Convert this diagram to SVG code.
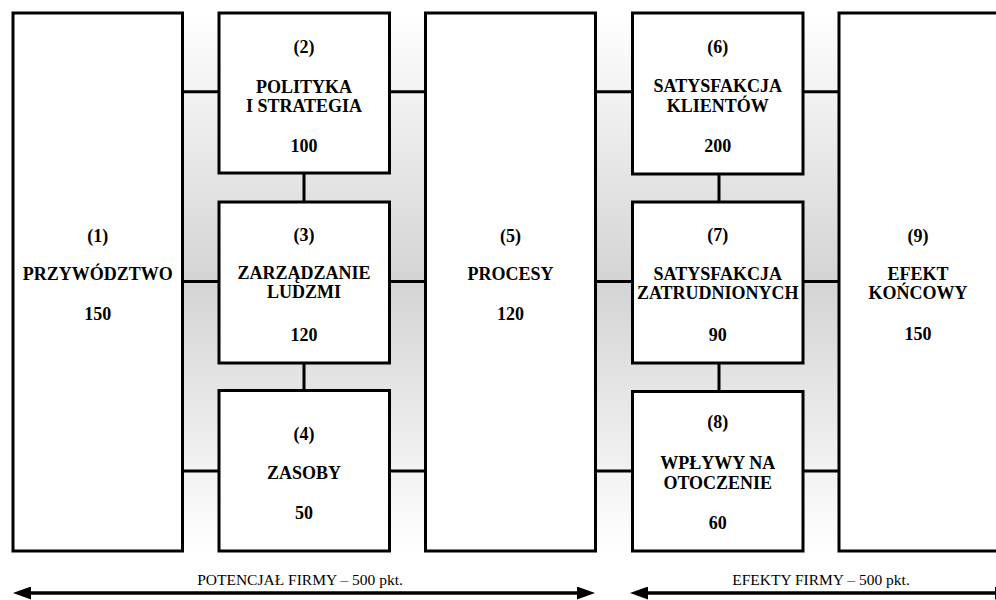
<svg xmlns="http://www.w3.org/2000/svg" width="996" height="600" viewBox="0 0 996 600">
<defs>
<linearGradient id="band" x1="0" y1="12" x2="0" y2="551" gradientUnits="userSpaceOnUse">
<stop offset="0" stop-color="#ffffff"/>
<stop offset="0.5" stop-color="#d4d4d4"/>
<stop offset="1" stop-color="#ffffff"/>
</linearGradient>
<marker id="ah" markerUnits="userSpaceOnUse" markerWidth="18" markerHeight="13" viewBox="0 0 18 13" refX="8" refY="6.5" orient="auto-start-reverse">
<path d="M0,0 L18,6.5 L0,13 Z" fill="#000"/>
</marker>
<style>
.box{fill:#fff;stroke:#000;stroke-width:3}
.con{stroke:#000;stroke-width:3;fill:none}
.t{font-family:"Liberation Serif","Times New Roman",serif;font-weight:bold;font-size:18px;text-anchor:middle;fill:#000}
.cap{font-family:"Liberation Serif","Times New Roman",serif;font-size:15.5px;text-anchor:middle;fill:#000}
.arr{stroke:#000;stroke-width:3.5;fill:none}
</style>
</defs>
<rect x="182" y="12" width="244" height="539" fill="url(#band)"/>
<rect x="595" y="12" width="245" height="539" fill="url(#band)"/>
<g id="connectors">
<line class="con" x1="182" y1="91.7" x2="426" y2="91.7"/>
<line class="con" x1="182" y1="281.5" x2="426" y2="281.5"/>
<line class="con" x1="182" y1="471" x2="426" y2="471"/>
<line class="con" x1="304" y1="173" x2="304" y2="390"/>
<line class="con" x1="595" y1="91.7" x2="840" y2="91.7"/>
<line class="con" x1="595" y1="281.5" x2="840" y2="281.5"/>
<line class="con" x1="595" y1="471" x2="840" y2="471"/>
<line class="con" x1="719" y1="173" x2="719" y2="391"/>
</g>
<g id="n1">
<rect class="box" x="13" y="13" width="169.5" height="538"/>
<text class="t" x="97.75" y="242">(1)</text>
<text class="t" x="97.75" y="280">PRZYWÓDZTWO</text>
<text class="t" x="97.75" y="320">150</text>
</g>
<g id="n2">
<rect class="box" x="219" y="13" width="170.5" height="160"/>
<text class="t" x="304" y="53">(2)</text>
<text class="t" x="304" y="93">POLITYKA</text>
<text class="t" x="304" y="112">I STRATEGIA</text>
<text class="t" x="304" y="152">100</text>
</g>
<g id="n3">
<rect class="box" x="219" y="202" width="170.5" height="161"/>
<text class="t" x="304" y="241">(3)</text>
<text class="t" x="304" y="279">ZARZĄDZANIE</text>
<text class="t" x="304" y="298">LUDZMI</text>
<text class="t" x="304" y="341">120</text>
</g>
<g id="n4">
<rect class="box" x="219" y="390.5" width="170.5" height="160.5"/>
<text class="t" x="304" y="440">(4)</text>
<text class="t" x="304" y="479">ZASOBY</text>
<text class="t" x="304" y="519">50</text>
</g>
<g id="n5">
<rect class="box" x="425.5" y="13" width="170" height="538"/>
<text class="t" x="510.5" y="242">(5)</text>
<text class="t" x="510.5" y="280">PROCESY</text>
<text class="t" x="510.5" y="320">120</text>
</g>
<g id="n6">
<rect class="box" x="632.5" y="13" width="170.5" height="161"/>
<text class="t" x="717.75" y="53">(6)</text>
<text class="t" x="717.75" y="92">SATYSFAKCJA</text>
<text class="t" x="717.75" y="112">KLIENTÓW</text>
<text class="t" x="717.75" y="152">200</text>
</g>
<g id="n7">
<rect class="box" x="632.5" y="202" width="170.5" height="161"/>
<text class="t" x="717.75" y="241">(7)</text>
<text class="t" x="717.75" y="280">SATYSFAKCJA</text>
<text class="t" x="717.75" y="299">ZATRUDNIONYCH</text>
<text class="t" x="717.75" y="341">90</text>
</g>
<g id="n8">
<rect class="box" x="632.5" y="391.5" width="170.5" height="159.5"/>
<text class="t" x="717.75" y="428">(8)</text>
<text class="t" x="717.75" y="469">WPŁYWY NA</text>
<text class="t" x="717.75" y="489">OTOCZENIE</text>
<text class="t" x="717.75" y="529">60</text>
</g>
<g id="n9">
<rect class="box" x="839" y="13" width="170" height="538"/>
<text class="t" x="918" y="242">(9)</text>
<text class="t" x="918" y="280">EFEKT</text>
<text class="t" x="918" y="299">KOŃCOWY</text>
<text class="t" x="918" y="340">150</text>
</g>
<g id="scale">
<line class="arr" x1="23" y1="593" x2="585" y2="593" marker-start="url(#ah)" marker-end="url(#ah)"/>
<line class="arr" x1="640" y1="593" x2="1003" y2="593" marker-start="url(#ah)" marker-end="url(#ah)"/>
<text class="cap" x="300" y="585">POTENCJAŁ FIRMY – 500 pkt.</text>
<text class="cap" x="821" y="585">EFEKTY FIRMY – 500 pkt.</text>
</g>
</svg>
